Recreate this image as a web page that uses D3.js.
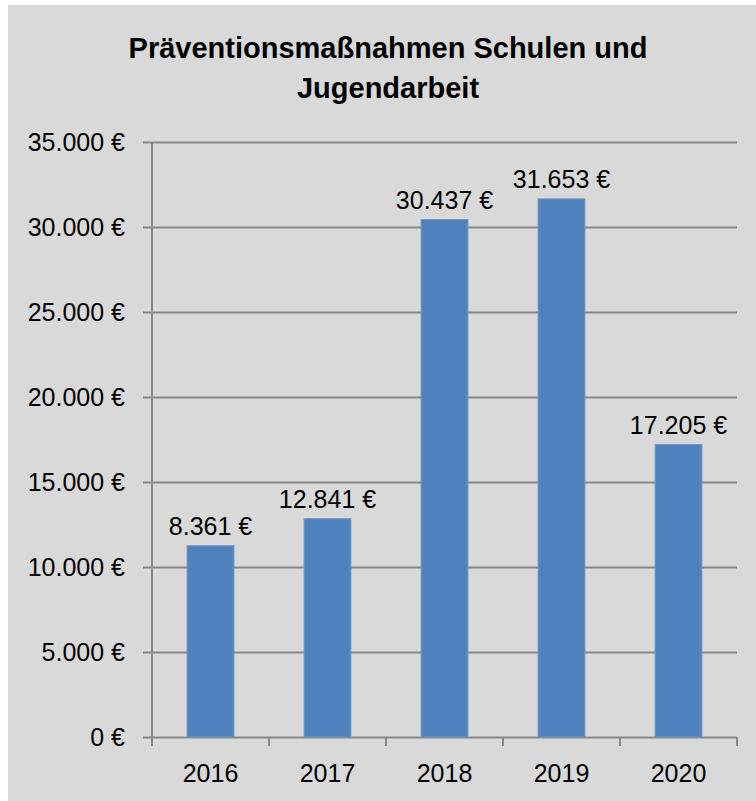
<!DOCTYPE html>
<meta charset="utf-8">
<script src="https://d3js.org/d3.v7.min.js"></script>
<style type="text/css">
body { margin: 0; }
text { font-family: "Liberation Sans", Arial, sans-serif; fill: #000; }
.axis path { display: none; }
.axis line { stroke: #888; stroke-width: 2px; }
.axis text { font-size: 25px; }
.title { font-size: 29px; font-weight: bold; }
.barLabel { font-size: 25px; }
</style>
<body></body>
<script>

// data
var years = ['2016', '2017', '2018', '2019', '2020'];
var barValues = [11250, 12841, 30437, 31653, 17205];   // bar heights as drawn
var barLabels = ['8.361 €', '12.841 €', '30.437 €', '31.653 €', '17.205 €'];
var yTicks = [0, 5000, 10000, 15000, 20000, 25000, 30000, 35000];
var titleLines = ['Präventionsmaßnahmen Schulen und', 'Jugendarbeit'];

var data = years.map(function(d, i) {
  return {year: d, value: barValues[i], label: barLabels[i]};
});

var fullWidth = 756, fullHeight = 801;
var plot = {left: 152, right: 737, top: 142, bottom: 737};

var svg = d3.select('body').append('svg')
    .attr('width', fullWidth)
    .attr('height', fullHeight);

// grey chart area
svg.append('rect')
    .attr('x', 8)
    .attr('y', 5)
    .attr('width', fullWidth - 8)
    .attr('height', fullHeight - 5)
    .style('fill', '#d9d9d9');

// title
svg.append('text')
    .attr('class', 'title')
    .attr('text-anchor', 'middle')
    .selectAll('tspan')
    .data(titleLines).enter().append('tspan')
    .attr('x', 388)
    .attr('y', function(d, i) { return 58 + i * 40; })
    .text(function(d) { return d; });

var xScale = d3.scaleBand()
    .domain(years)
    .range([plot.left, plot.right])
    .paddingInner(0.6)
    .paddingOuter(0.3);

var yScale = d3.scaleLinear()
    .domain([0, 35000])
    .range([plot.bottom, plot.top]);

var euro = function(d) { return d3.format(',')(d).replace(/,/g, '.') + ' €'; };

// y axis with gridlines, drawn from the right edge so ticks poke out left of the axis
var yAxis = d3.axisLeft(yScale)
    .tickValues(yTicks)
    .tickSize(plot.right - plot.left + 9)
    .tickPadding(18)
    .tickFormat(euro);

svg.append('g')
    .attr('class', 'y axis')
    .attr('transform', 'translate(' + plot.right + ',0)')
    .call(yAxis)
  .selectAll('text')
    .attr('dy', '0.32em');

// vertical axis line
svg.append('line')
    .attr('x1', plot.left).attr('x2', plot.left)
    .attr('y1', yScale(35000)).attr('y2', yScale(0))
    .style('stroke', '#888')
    .style('stroke-width', 2);

// x axis labels
var xAxis = d3.axisBottom(xScale)
    .tickSize(0)
    .tickPadding(27);

svg.append('g')
    .attr('class', 'x axis')
    .attr('transform', 'translate(0,' + plot.bottom + ')')
    .call(xAxis);

// category boundary ticks
svg.append('g')
    .selectAll('line')
    .data(d3.range(years.length + 1)).enter().append('line')
    .attr('x1', function(i) { return plot.left + i * xScale.step(); })
    .attr('x2', function(i) { return plot.left + i * xScale.step(); })
    .attr('y1', plot.bottom)
    .attr('y2', plot.bottom + 9)
    .style('stroke', '#888')
    .style('stroke-width', 2);

// bars
svg.selectAll('.bar')
    .data(data).enter().append('rect')
    .attr('class', 'bar')
    .attr('x', function(d) { return xScale(d.year); })
    .attr('y', function(d) { return yScale(d.value); })
    .attr('width', xScale.bandwidth())
    .attr('height', function(d) { return yScale(0) - yScale(d.value); })
    .style('fill', '#4f81bd')
    .style('stroke', '#6e96c8')
    .style('stroke-width', 1);

// value labels
svg.selectAll('.barLabel')
    .data(data).enter().append('text')
    .attr('class', 'barLabel')
    .attr('text-anchor', 'middle')
    .attr('x', function(d) { return xScale(d.year) + xScale.bandwidth() / 2; })
    .attr('y', function(d) { return yScale(d.value) - 11; })
    .text(function(d) { return d.label; });

</script>
